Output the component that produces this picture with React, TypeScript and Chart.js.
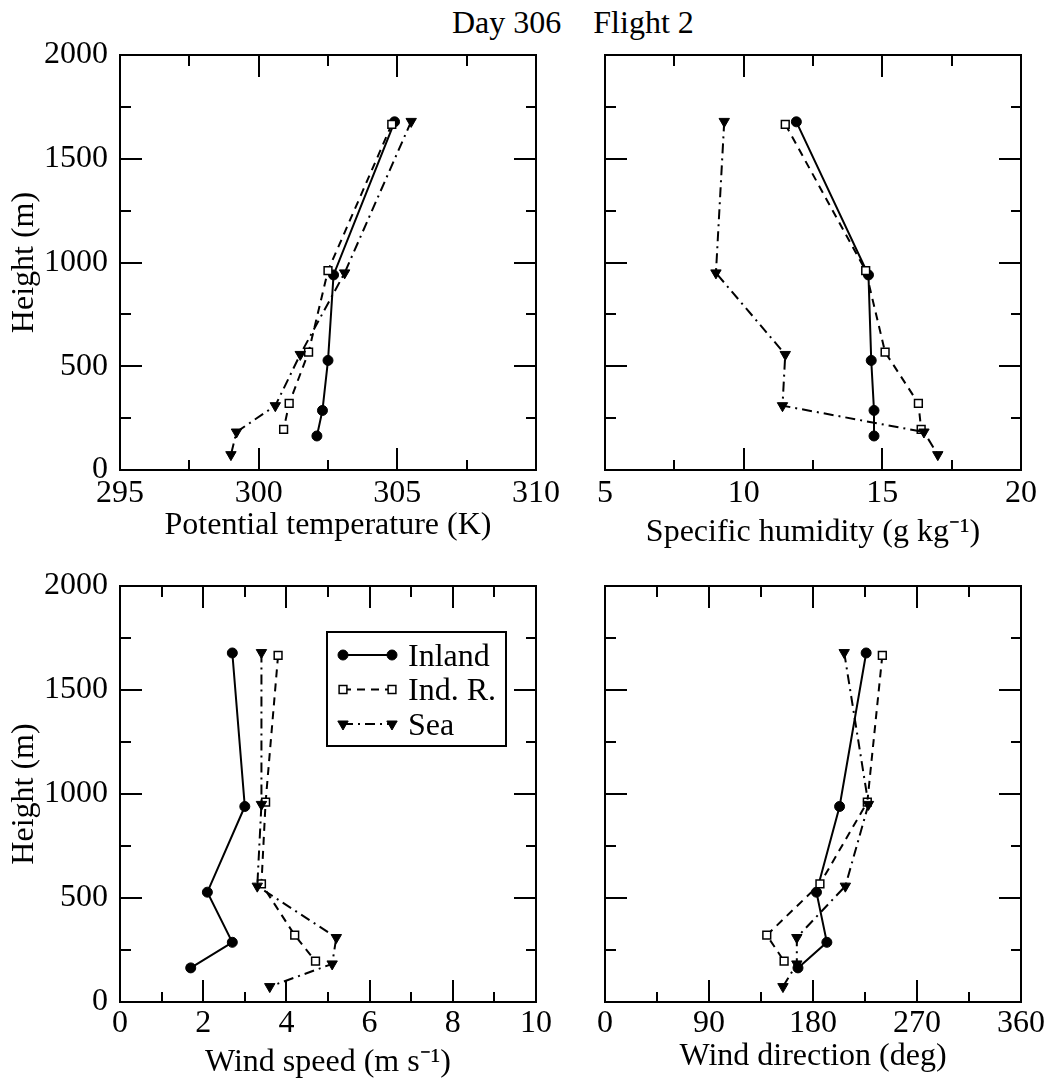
import React, { useEffect, useRef } from 'react';
import { Chart, registerables } from 'chart.js';

Chart.register(...registerables);

const FONT = "'Liberation Serif', 'Times New Roman', Times, serif";

// ---- data (heights in m) ----
const heightInland = [1678, 940, 528, 287, 164];
const heightIndR = [1666, 961, 568, 321, 196];
const heightSea = [1680, 950, 557, 310, 183, 74];

const thetaInland = [304.9, 302.7, 302.5, 302.3, 302.1];
const thetaIndR = [304.8, 302.5, 301.8, 301.1, 300.9];
const thetaSea = [305.5, 303.1, 301.5, 300.6, 299.2, 299.0];

const qInland = [11.9, 14.5, 14.6, 14.7, 14.7];
const qIndR = [11.5, 14.4, 15.1, 16.3, 16.4];
const qSea = [9.3, 9.0, 11.5, 11.4, 16.5, 17.0];

const speedInland = [2.7, 3.0, 2.1, 2.7, 1.7];
const speedIndR = [3.8, 3.5, 3.4, 4.2, 4.7];
const speedSea = [3.4, 3.4, 3.3, 5.2, 5.1, 3.6];

const dirInland = [226, 203, 183, 192, 167];
const dirIndR = [240, 227, 186, 140, 155];
const dirSea = [207, 228, 208, 166, 166, 154];

const seriesLabels = ['Inland', 'Ind. R.', 'Sea'];

// ---- tick labels ----
const heightMajorTicks = [0, 500, 1000, 1500, 2000];
const thetaMajorTicks = [295, 300, 305, 310];
const qMajorTicks = [5, 10, 15, 20];
const speedMajorTicks = [0, 2, 4, 6, 8, 10];
const dirMajorTicks = [0, 90, 180, 270, 360];

const titleText = 'Day 306    Flight 2';
const yTitleText = 'Height (m)';
const thetaTitle = 'Potential temperature (K)';
const qTitle = 'Specific humidity (g kg\u207B\u00B9)';
const speedTitle = 'Wind speed (m s\u207B\u00B9)';
const dirTitle = 'Wind direction (deg)';

// ---- styles ----
const seriesStyles = [
  { pointStyle: 'circle', radius: 5, fill: '#000', bw: 1, dash: [] as number[], rot: 0, order: 2 },
  { pointStyle: 'rect', radius: 5.5, fill: '#fff', bw: 1.5, dash: [8, 6], rot: 0, order: 1 },
  { pointStyle: 'triangle', radius: 6, fill: '#000', bw: 1, dash: [10, 5, 2, 5], rot: 180, order: 0 },
];

const MAJOR_LEN = 22;
const MINOR_LEN = 11;

function allTicks(major: number[]) {
  const out: number[] = [];
  for (let i = 0; i < major.length; i++) {
    out.push(major[i]);
    if (i < major.length - 1) out.push((major[i] + major[i + 1]) / 2);
  }
  return out;
}

function isMajorOf(major: number[], v: number) {
  return major.some((m) => Math.abs(m - v) < 1e-9);
}

function makeAxis(opts: {
  position: 'left' | 'right' | 'top' | 'bottom';
  major: number[];
  size: number;
  showLabels: boolean;
  labelPad: number;
  title?: string;
  titlePad?: { top: number; bottom: number };
}) {
  const { position, major, size, showLabels, labelPad, title, titlePad } = opts;
  const horiz = position === 'top' || position === 'bottom';
  const startsInside = position === 'top' || position === 'left';
  const ticks = allTicks(major);
  return {
    type: 'linear',
    position,
    min: major[0],
    max: major[major.length - 1],
    afterBuildTicks: (s: any) => {
      s.ticks = ticks.map((v) => ({ value: v }));
    },
    afterFit: (s: any) => {
      if (horiz) s.height = size;
      else s.width = size;
      s.paddingLeft = 0;
      s.paddingRight = 0;
      s.paddingTop = 0;
      s.paddingBottom = 0;
    },
    grid: {
      display: true,
      drawOnChartArea: false,
      drawTicks: true,
      tickLength: -MAJOR_LEN,
      color: '#000',
      lineWidth: 2,
      tickColor: '#000',
      tickWidth: 2,
      tickBorderDash: (c: any) => {
        if (!c.tick || isMajorOf(major, c.tick.value)) return [];
        return startsInside ? [MINOR_LEN, MAJOR_LEN - MINOR_LEN] : [MINOR_LEN, 200];
      },
      tickBorderDashOffset: (c: any) => {
        if (!c.tick || isMajorOf(major, c.tick.value)) return 0;
        return startsInside ? MAJOR_LEN - MINOR_LEN : 0;
      },
    },
    border: { display: true, color: '#000', width: 2 },
    ticks: {
      display: showLabels,
      autoSkip: false,
      maxRotation: 0,
      minRotation: 0,
      padding: labelPad,
      color: '#000',
      font: { family: FONT, size: 32 },
      callback: (v: number) => (isMajorOf(major, v) ? String(v) : ''),
    },
    title: title
      ? {
          display: true,
          text: title,
          color: '#000',
          font: { family: FONT, size: 32 },
          padding: titlePad || { top: 0, bottom: 0 },
        }
      : { display: false },
  };
}

function drawMarker(ctx: CanvasRenderingContext2D, st: any, x: number, y: number) {
  ctx.save();
  ctx.setLineDash([]);
  ctx.fillStyle = st.fill;
  ctx.strokeStyle = '#000';
  ctx.lineWidth = st.bw;
  ctx.beginPath();
  const r = st.radius;
  if (st.pointStyle === 'circle') {
    ctx.arc(x, y, r, 0, Math.PI * 2);
  } else if (st.pointStyle === 'rect') {
    const s = r * Math.SQRT1_2;
    ctx.rect(x - s, y - s, 2 * s, 2 * s);
  } else {
    let rad = (st.rot * Math.PI) / 180;
    ctx.moveTo(x + Math.sin(rad) * r, y - Math.cos(rad) * r);
    rad += (2 * Math.PI) / 3;
    ctx.lineTo(x + Math.sin(rad) * r, y - Math.cos(rad) * r);
    rad += (2 * Math.PI) / 3;
    ctx.lineTo(x + Math.sin(rad) * r, y - Math.cos(rad) * r);
    ctx.closePath();
  }
  ctx.fill();
  ctx.stroke();
  ctx.restore();
}

const boxLegendPlugin = {
  id: 'boxLegend',
  afterDatasetsDraw(chart: any) {
    const { ctx, chartArea } = chart;
    const x0 = chartArea.left + 207;
    const y0 = chartArea.top + 46;
    const w = 179;
    const h = 114;
    ctx.save();
    ctx.fillStyle = '#fff';
    ctx.fillRect(x0, y0, w, h);
    ctx.strokeStyle = '#000';
    ctx.lineWidth = 2;
    ctx.strokeRect(x0, y0, w, h);
    seriesLabels.forEach((label, i) => {
      const st = seriesStyles[i];
      const y = y0 + 23 + i * 34.5;
      const xa = x0 + 16;
      const xb = x0 + 65;
      ctx.save();
      ctx.strokeStyle = '#000';
      ctx.lineWidth = 2;
      ctx.setLineDash(st.dash);
      ctx.beginPath();
      ctx.moveTo(xa, y);
      ctx.lineTo(xb, y);
      ctx.stroke();
      ctx.restore();
      drawMarker(ctx, st, xa, y);
      drawMarker(ctx, st, xb, y);
      ctx.fillStyle = '#000';
      ctx.font = `32px ${FONT}`;
      ctx.textBaseline = 'alphabetic';
      ctx.textAlign = 'left';
      ctx.fillText(label, x0 + 81, y + 10.5);
    });
    ctx.restore();
  },
};

type PanelProps = {
  left: number;
  top: number;
  width: number;
  height: number;
  box: { l: number; t: number; r: number; b: number };
  xMajor: number[];
  xTitle: string;
  xTitlePadBottom: number;
  xLabelPad: number;
  showYLabels: boolean;
  showYTitle: boolean;
  xs: number[][];
  legend?: boolean;
};

const seriesHeights = [heightInland, heightIndR, heightSea];

function Panel(p: PanelProps) {
  const ref = useRef<HTMLCanvasElement>(null);
  useEffect(() => {
    const leftW = p.box.l - p.left;
    const topH = p.box.t - p.top;
    const rightW = p.left + p.width - p.box.r;
    const bottomH = p.top + p.height - p.box.b;
    const datasets = p.xs.map((xv, i) => {
      const st = seriesStyles[i];
      return {
        label: seriesLabels[i],
        data: xv.map((x, k) => ({ x, y: seriesHeights[i][k] })),
        showLine: true,
        borderColor: '#000',
        borderWidth: 2,
        borderDash: st.dash,
        pointStyle: st.pointStyle,
        pointRadius: st.radius,
        pointRotation: st.rot,
        pointBackgroundColor: st.fill,
        pointBorderColor: '#000',
        pointBorderWidth: st.bw,
        order: st.order,
        xAxisID: 'x',
        yAxisID: 'y',
      };
    });
    const chart = new Chart(ref.current as HTMLCanvasElement, {
      type: 'scatter',
      data: { datasets } as any,
      options: {
        responsive: false,
        animation: false,
        events: [],
        layout: { padding: 0 },
        plugins: {
          legend: { display: false },
          tooltip: { enabled: false },
          title: { display: false },
        },
        scales: {
          x: makeAxis({
            position: 'bottom',
            major: p.xMajor,
            size: bottomH,
            showLabels: true,
            labelPad: p.xLabelPad,
            title: p.xTitle,
            titlePad: { top: 0, bottom: p.xTitlePadBottom },
          }),
          xTop: makeAxis({ position: 'top', major: p.xMajor, size: topH, showLabels: false, labelPad: 0 }),
          y: makeAxis({
            position: 'left',
            major: heightMajorTicks,
            size: leftW,
            showLabels: p.showYLabels,
            labelPad: MAJOR_LEN + 12,
            title: p.showYTitle ? yTitleText : undefined,
            titlePad: { top: 5, bottom: 0 },
          }),
          yRight: makeAxis({ position: 'right', major: heightMajorTicks, size: rightW, showLabels: false, labelPad: 0 }),
        } as any,
      },
      plugins: p.legend ? [boxLegendPlugin] : [],
    } as any);
    return () => chart.destroy();
  }, []);
  return (
    <canvas
      ref={ref}
      width={p.width}
      height={p.height}
      style={{ position: 'absolute', left: p.left, top: p.top, width: p.width, height: p.height }}
    />
  );
}

export default function App() {
  return (
    <div style={{ position: 'absolute', left: 0, top: 0, width: 1050, height: 1084, background: '#fff' }}>
      <div
        style={{
          position: 'absolute',
          left: 452,
          top: 5.5,
          fontFamily: FONT,
          fontSize: 32,
          lineHeight: '32px',
          whiteSpace: 'pre',
          color: '#000',
        }}
      >
        {titleText}
      </div>
      <Panel
        left={0}
        top={0}
        width={570}
        height={550}
        box={{ l: 120, t: 55, r: 536, b: 470 }}
        xMajor={thetaMajorTicks}
        xTitle={thetaTitle}
        xTitlePadBottom={5.6}
        xLabelPad={26.8}
        showYLabels={true}
        showYTitle={true}
        xs={[thetaInland, thetaIndR, thetaSea]}
      />
      <Panel
        left={570}
        top={0}
        width={480}
        height={560}
        box={{ l: 605, t: 55, r: 1021, b: 470 }}
        xMajor={qMajorTicks}
        xTitle={qTitle}
        xTitlePadBottom={8}
        xLabelPad={26.8}
        showYLabels={false}
        showYTitle={false}
        xs={[qInland, qIndR, qSea]}
      />
      <Panel
        left={0}
        top={550}
        width={570}
        height={534}
        box={{ l: 120, t: 586, r: 536, b: 1002 }}
        xMajor={speedMajorTicks}
        xTitle={speedTitle}
        xTitlePadBottom={2}
        xLabelPad={24.8}
        showYLabels={true}
        showYTitle={true}
        xs={[speedInland, speedIndR, speedSea]}
        legend={true}
      />
      <Panel
        left={570}
        top={550}
        width={480}
        height={534}
        box={{ l: 605, t: 586, r: 1021, b: 1002 }}
        xMajor={dirMajorTicks}
        xTitle={dirTitle}
        xTitlePadBottom={8}
        xLabelPad={24.8}
        showYLabels={false}
        showYTitle={false}
        xs={[dirInland, dirIndR, dirSea]}
      />
    </div>
  );
}
